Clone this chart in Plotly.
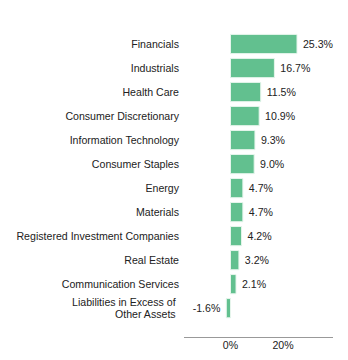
import plotly.graph_objects as go

categories = ["Financials", "Industrials", "Health Care", "Consumer Discretionary",
              "Information Technology", "Consumer Staples", "Energy", "Materials",
              "Registered Investment Companies", "Real Estate", "Communication Services",
              "Liabilities in Excess of Other Assets"]
tick_text = categories[:-1] + [""]
last_label_lines = ["Liabilities in Excess of", "Other Assets"]
values = [25.3, 16.7, 11.5, 10.9, 9.3, 9.0, 4.7, 4.7, 4.2, 3.2, 2.1, -1.6]
labels = [(f" {v:.1f}%" if v >= 0 else f"{v:.1f}% ") for v in values]

FONT = "Liberation Sans, Arial"
TXT = "#222222"

fig = go.Figure(go.Bar(
    x=values, y=categories, orientation="h",
    marker=dict(color="#62c08f", line=dict(color="#e6f5ec", width=1)),
    text=labels, textposition="outside", cliponaxis=False,
    textfont=dict(family=FONT, size=10.6, color=TXT),
    width=0.8,
))
for i, line in enumerate(last_label_lines):
    fig.add_annotation(
        x=0, xref="paper", xanchor="right", xshift=-6,
        y=categories[-1], yref="y", yshift=5.8 - 11.6 * i, yanchor="middle",
        text=line, showarrow=False,
        font=dict(family=FONT, size=10.6, color=TXT),
    )
fig.update_layout(
    width=348, height=360,
    margin=dict(l=184, r=15, t=32, b=23),
    plot_bgcolor="white", paper_bgcolor="white",
    showlegend=False,
    font=dict(family=FONT, size=10.6, color=TXT),
    xaxis=dict(range=[-17.7, 39.0], tickvals=[0, 20], ticktext=["0%", "20%"],
               showgrid=False, zeroline=False, showline=True, linecolor="#999999",
               linewidth=1, ticks="", automargin=False, ticklabelstandoff=-2,
               tickfont=dict(size=10.6, color=TXT)),
    yaxis=dict(range=[12.2, -0.5], showgrid=False, zeroline=False, showline=False,
               ticks="", ticklabelstandoff=4, automargin=False,
               tickvals=categories, ticktext=tick_text,
               tickfont=dict(size=10.6, color=TXT)),
)
fig.write_html("out.html")
